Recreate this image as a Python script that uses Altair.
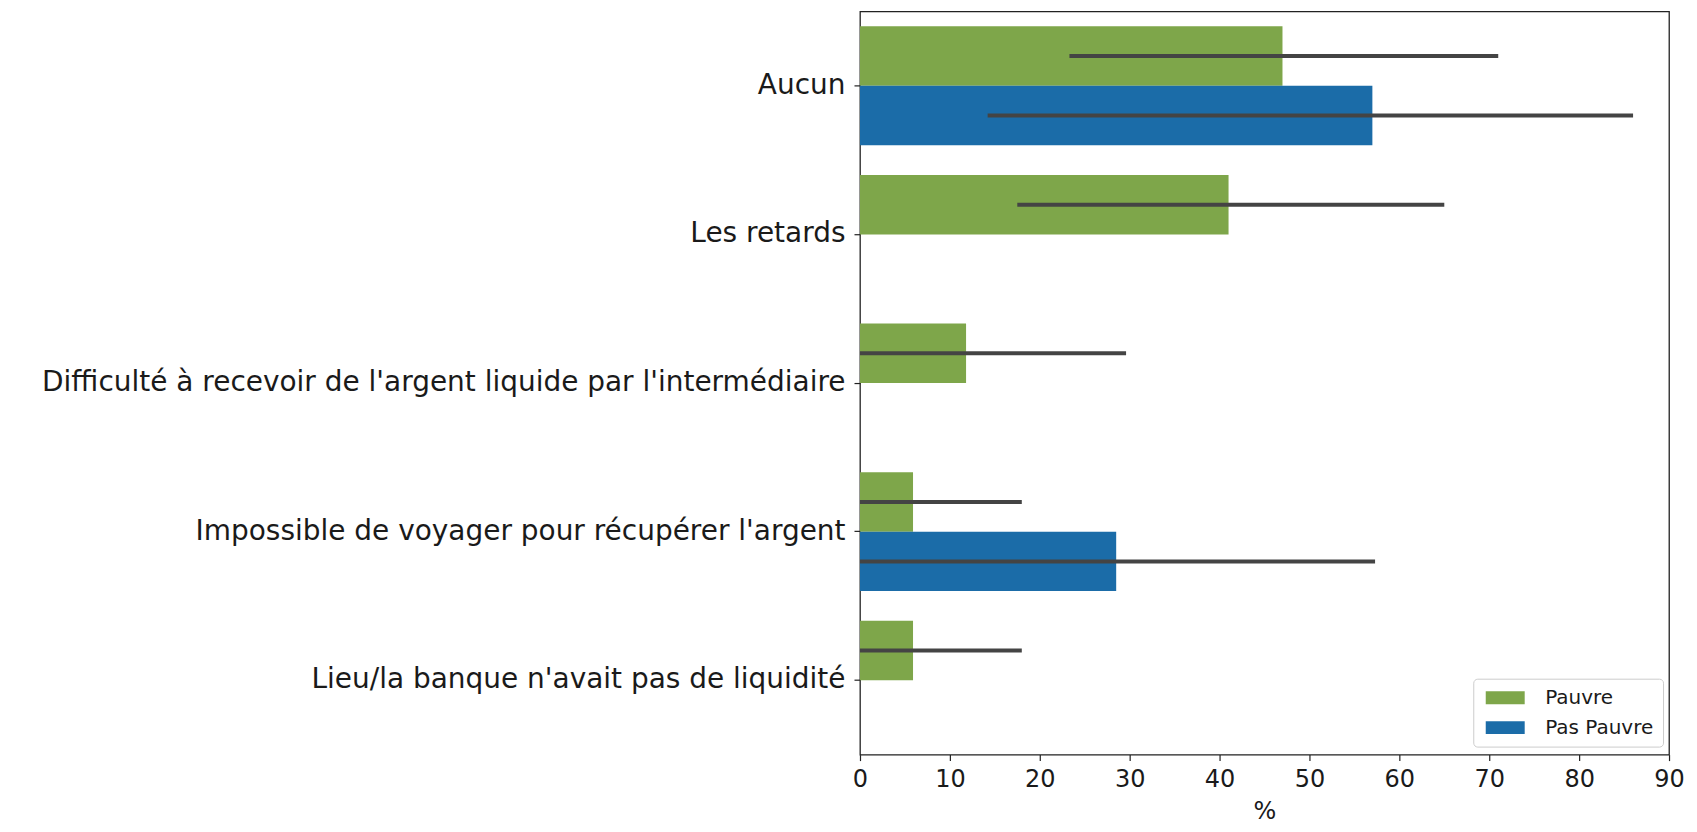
import altair as alt
import pandas as pd

categories = [
    "Aucun",
    "Les retards",
    "Difficulté à recevoir de l'argent liquide par l'intermédiaire",
    "Impossible de voyager pour récupérer l'argent",
    "Lieu/la banque n'avait pas de liquidité",
]
groups = ["Pauvre", "Pas Pauvre"]

pauvre_values = [47.0, 41.0, 11.8, 5.9, 5.9]
pauvre_low = [23.3, 17.5, 0.0, 0.0, 0.0]
pauvre_high = [71.0, 65.0, 29.6, 18.0, 18.0]

pas_pauvre_cats = ["Aucun", "Impossible de voyager pour récupérer l'argent"]
pas_pauvre_values = [57.0, 28.5]
pas_pauvre_low = [14.2, 0.0]
pas_pauvre_high = [86.0, 57.3]

colors = ["#7ea64a", "#1b6ca8"]

rows = []
for c, v, lo, hi in zip(categories, pauvre_values, pauvre_low, pauvre_high):
    rows.append({"cat": c, "grp": "Pauvre", "val": v, "lo": lo, "hi": hi})
for c, v, lo, hi in zip(pas_pauvre_cats, pas_pauvre_values, pas_pauvre_low, pas_pauvre_high):
    rows.append({"cat": c, "grp": "Pas Pauvre", "val": v, "lo": lo, "hi": hi})
df = pd.DataFrame(rows)

FONT = "DejaVu Sans"

y_enc = alt.Y(
    "cat:N",
    sort=categories,
    scale=alt.Scale(domain=categories, paddingInner=0.2, paddingOuter=0.1),
    axis=alt.Axis(
        title=None,
        labelFontSize=28,
        labelLimit=1200,
        labelColor="#1a1a1a",
        labelFont=FONT,
        tickSize=6,
        tickColor="#222",
        tickWidth=1.2,
        labelPadding=9,
        domain=False,
    ),
)
yoff = alt.YOffset("grp:N", sort=groups, scale=alt.Scale(domain=groups, paddingInner=0, paddingOuter=0))

x_scale = alt.Scale(domain=[0, 90], nice=False, zero=True)

bars = alt.Chart(df).mark_bar().encode(
    y=y_enc,
    yOffset=yoff,
    x=alt.X(
        "val:Q",
        scale=x_scale,
        axis=alt.Axis(
            title="%",
            values=list(range(0, 91, 10)),
            labelFontSize=24,
            labelFont=FONT,
            labelColor="#1a1a1a",
            titleFontSize=24,
            titleFont=FONT,
            titleFontWeight="normal",
            titleColor="#1a1a1a",
            titlePadding=8,
            tickSize=6,
            tickColor="#222",
            tickWidth=1.2,
            labelPadding=7,
            grid=False,
            domain=False,
            labelFlush=False,
        ),
    ),
    color=alt.Color(
        "grp:N",
        sort=groups,
        scale=alt.Scale(domain=groups, range=colors),
        legend=alt.Legend(
            title=None,
            orient="none",
            legendX=614,
            legendY=668,
            symbolType="M-3,-1L3,-1L3,1L-3,1Z",
            symbolSize=169,
            symbolOffset=13,
            symbolStrokeWidth=0,
            labelOffset=30,
            labelFontSize=20,
            labelFont=FONT,
            labelColor="#1a1a1a",
            rowPadding=10,
            padding=9,
            strokeColor="#cccccc",
            fillColor="white",
            cornerRadius=4,
        ),
    ),
)

errs = alt.Chart(df).mark_rule(color="#444444", strokeWidth=4).encode(
    y=alt.Y("cat:N", sort=categories),
    yOffset=yoff,
    x=alt.X("lo:Q", scale=x_scale),
    x2="hi:Q",
)

chart = (
    alt.layer(bars, errs)
    .properties(
        width=810,
        height=744,
        autosize=alt.AutoSizeParams(type="none"),
        padding={"left": 853, "top": 3, "right": 20, "bottom": 72},
    )
    .configure(font=FONT)
    .configure_view(stroke="#222222", strokeWidth=1.3)
)

chart.save("out.html", embed_options={"renderer": "svg", "actions": False})
